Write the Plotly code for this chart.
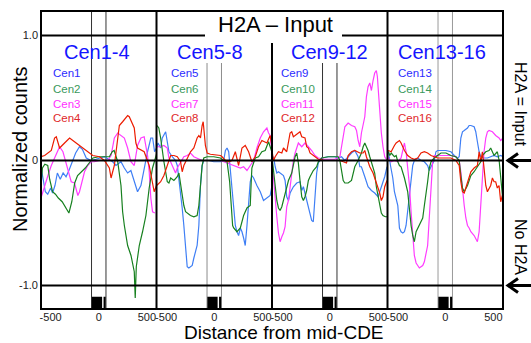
import plotly.graph_objects as go

# ---------------- data (distance from mid-CDE, normalized counts) ----------------
CEN1 = [(-600,-0.05),(-580,-0.15),(-555,-0.25),(-530,-0.27),(-500,-0.22),(-480,-0.26),(-455,-0.2),(-430,-0.1),
        (-400,-0.15),(-370,-0.1),(-340,-0.13),(-310,-0.08),(-280,-0.02),(-240,0.06),(-200,0.11),(-170,0.09),
        (-130,0.02),(-80,0.0),(-30,0.01),(20,0.02),(60,0.03),(100,0.01),(145,-0.01),(179,-0.04),(231,-0.01),
        (266,-0.06),(300,-0.1),(334,-0.08),(369,-0.17),(403,-0.25),(438,-0.2),(472,-0.06),(507,0.07),(541,0.18),
        (560,0.18),(580,0.07),(600,0.1)]
CEN2 = [(-600,-0.2),(-585,-0.06),(-560,-0.03),(-530,-0.04),(-510,-0.15),(-480,-0.25),(-450,-0.27),(-420,-0.3),
        (-380,-0.33),(-352,-0.37),(-310,-0.42),(-280,-0.33),(-250,-0.18),(-220,-0.12),(-180,-0.09),(-140,-0.06),
        (-100,-0.02),(-60,0.02),(0,0.03),(60,0.03),(110,0.03),(140,0.07),(160,0.08),(197,-0.01),(231,-0.2),
        (248,-0.41),(266,-0.52),(300,-0.68),(335,-0.76),(369,-0.89),(379,-1.1),(390,-0.85),(421,-0.68),
        (455,-0.57),(490,-0.44),(524,-0.22),(559,-0.06),(600,0.05)]
CEN3 = [(-600,-0.3),(-562,-0.2),(-528,-0.12),(-493,-0.04),(-459,0.02),(-441,0.04),(-407,0.11),(-372,0.07),
        (-355,0.02),(-321,-0.06),(-286,-0.17),(-252,-0.18),(-217,-0.28),(-200,-0.25),(-166,-0.14),(-148,-0.09),
        (-114,-0.04),(-79,-0.01),(-45,-0.01),(7,0.0),(59,0.0),(93,0.0),(128,0.04),(162,0.18),(197,0.22),
        (231,0.2),(266,0.18),(300,0.1),(334,-0.01),(369,-0.04),(403,0.12),(438,0.18),(472,0.19),(507,0.04),
        (524,-0.09),(541,-0.3),(559,-0.41),(583,-0.42)]
CEN4 = [(-600,0.03),(-562,0.04),(-493,0.08),(-459,0.18),(-441,0.19),(-407,0.1),(-355,0.14),(-303,0.18),
        (-252,0.15),(-183,0.11),(-114,0.07),(-62,0.04),(7,0.03),(59,0.0),(110,-0.06),(128,-0.14),(162,-0.04),
        (214,0.28),(248,0.31),(300,0.36),(317,0.35),(369,0.26),(386,0.14),(403,0.1),(472,0.07),(524,-0.04),
        (576,-0.25),(600,-0.2)]

CEN5 = [(-600,0.1),(-584,0.14),(-557,0.1),(-540,0.18),(-505,0.23),(-488,0.16),(-471,0.07),(-436,0.03),
        (-402,0.0),(-384,-0.04),(-367,-0.14),(-350,-0.25),(-333,-0.38),(-316,-0.52),(-298,-0.68),(-281,-0.85),
        (-264,-0.86),(-229,-0.84),(-212,-0.78),(-195,-0.73),(-178,-0.68),(-160,-0.52),(-143,-0.2),(-126,-0.04),
        (-109,0.0),(-57,0.0),(-5,-0.01),(64,-0.01),(98,0.0),(116,0.08),(133,0.1),(150,0.07),(167,-0.09),
        (184,-0.25),(202,-0.41),(219,-0.52),(236,-0.57),(253,-0.6),(271,-0.54),(288,-0.57),(305,-0.62),
        (322,-0.68),(340,-0.52),(357,-0.33),(374,-0.17),(391,-0.12),(409,-0.14),(443,-0.2),(478,-0.25),
        (512,-0.32),(547,-0.3),(581,-0.28),(600,-0.2)]
CEN6 = [(-595,0.28),(-576,0.26),(-557,0.18),(-540,0.07),(-523,-0.01),(-505,-0.09),(-488,-0.17),(-471,-0.18),
        (-453,-0.14),(-419,-0.16),(-384,-0.13),(-367,-0.1),(-350,-0.2),(-333,-0.28),(-316,-0.36),(-298,-0.41),
        (-281,-0.42),(-247,-0.44),(-212,-0.45),(-178,-0.44),(-160,-0.36),(-143,-0.2),(-126,-0.04),(-109,0.02),
        (-74,0.03),(-5,0.03),(64,0.02),(98,0.0),(133,-0.01),(160,-0.17),(174,-0.36),(191,-0.52),(202,-0.54),
        (236,-0.57),(271,-0.54),(288,-0.49),(305,-0.44),(340,-0.38),(374,-0.36),(384,-0.17),(391,-0.06),
        (426,0.02),(460,0.03),(495,0.07),(529,0.08),(564,0.15),(598,0.07)]
CEN7 = [(-595,0.11),(-557,0.11),(-523,0.12),(-488,0.1),(-471,0.02),(-436,-0.04),(-402,-0.1),(-384,-0.06),
        (-350,-0.01),(-316,0.03),(-281,0.04),(-247,0.06),(-212,0.03),(-178,0.02),(-126,0.0),(-74,0.0),
        (-5,0.0),(64,0.0),(133,-0.02),(202,-0.04),(236,-0.05),(271,-0.06),(305,-0.05),(340,-0.08),(374,-0.04),
        (409,0.0),(443,0.1),(478,0.18),(512,0.23),(547,0.26),(564,0.22),(581,0.2),(598,0.07)]
CEN8 = [(-598,-0.2),(-557,-0.17),(-523,-0.12),(-488,-0.04),(-453,0.04),(-419,0.04),(-384,0.03),(-350,-0.01),
        (-333,-0.09),(-316,-0.04),(-281,0.02),(-247,0.07),(-212,0.1),(-178,0.18),(-160,0.2),(-143,0.18),
        (-126,0.28),(-115,0.31),(-92,0.12),(-74,0.06),(-40,0.05),(64,0.04),(81,0.03),(116,0.0),(150,-0.01),
        (184,0.0),(219,0.07),(253,-0.04),(288,0.1),(322,0.12),(357,0.07),(391,-0.01),(426,0.03),(460,0.11),
        (495,0.16),(547,0.14),(581,0.2),(598,0.12)]

CEN9 = [(-600,0.0),(-584,0.03),(-567,-0.05),(-550,-0.1),(-533,-0.09),(-516,-0.1),(-481,-0.12),(-464,-0.16),
        (-447,-0.29),(-429,-0.32),(-412,-0.26),(-378,-0.21),(-343,-0.18),(-309,-0.17),(-291,-0.24),(-274,-0.21),
        (-257,-0.26),(-240,-0.32),(-222,-0.37),(-205,-0.42),(-188,-0.48),(-171,-0.49),(-153,-0.32),(-136,-0.1),
        (-119,-0.02),(-84,0.02),(-16,0.03),(53,0.03),(88,0.02),(122,0.03),(157,0.0),(191,0.03),(226,0.06),
        (260,0.08),(295,0.03),(312,-0.05),(329,-0.05),(364,-0.13),(398,-0.21),(433,-0.24),(467,-0.26),
        (502,-0.29),(536,-0.21),(571,-0.13),(595,-0.05)]
CEN10 = [(-600,0.03),(-584,-0.1),(-567,-0.21),(-550,-0.32),(-533,-0.38),(-516,-0.4),(-498,-0.37),(-481,-0.32),
         (-464,-0.26),(-447,-0.21),(-429,-0.16),(-395,-0.1),(-378,-0.02),(-360,0.03),(-343,0.06),(-326,-0.02),
         (-309,-0.16),(-291,-0.29),(-274,-0.32),(-257,-0.29),(-240,-0.24),(-222,-0.16),(-205,-0.13),(-188,-0.1),
         (-171,-0.08),(-136,-0.05),(-119,-0.01),(-84,0.02),(-16,0.03),(53,0.03),(88,0.03),(105,0.0),(122,-0.08),
         (140,-0.16),(157,-0.18),(191,-0.18),(226,-0.16),(260,-0.05),(295,0.0),(329,0.06),(347,0.11),(364,0.14),
         (381,0.11),(398,0.08),(416,0.03),(450,-0.05),(467,-0.1),(484,-0.21),(519,-0.34),(536,-0.42),
         (553,-0.44),(578,-0.45),(600,-0.45)]
CEN11 = [(-600,0.0),(-584,-0.16),(-567,-0.32),(-550,-0.45),(-533,-0.58),(-516,-0.65),(-498,-0.61),(-481,-0.58),
         (-464,-0.53),(-447,-0.37),(-429,-0.32),(-412,-0.21),(-395,-0.1),(-378,0.0),(-360,0.06),(-343,0.11),
         (-326,0.14),(-291,0.11),(-257,0.14),(-222,0.11),(-188,0.08),(-153,0.04),(-119,0.02),(-50,0.01),
         (53,0.01),(105,0.03),(122,0.11),(140,0.22),(157,0.27),(191,0.3),(226,0.28),(260,0.27),(278,0.24),
         (295,0.16),(312,0.11),(329,0.22),(364,0.35),(381,0.51),(398,0.59),(416,0.62),(433,0.56),(450,0.64),
         (467,0.7),(484,0.72),(495,0.67),(502,0.59),(519,0.4),(536,0.22),(553,0.11),(571,0.03),(595,0.0)]
CEN12 = [(-600,0.08),(-584,0.0),(-567,0.03),(-533,0.07),(-498,0.06),(-481,0.1),(-447,0.07),(-429,0.14),
         (-412,0.22),(-395,0.23),(-378,0.19),(-360,0.2),(-326,0.22),(-309,0.23),(-291,0.19),(-257,0.18),
         (-240,0.11),(-222,0.1),(-205,0.06),(-153,0.03),(-119,0.01),(-50,0.0),(53,0.0),(105,0.0),(140,-0.01),
         (174,-0.02),(191,0.04),(226,0.07),(260,0.08),(295,0.07),(312,0.06),(347,0.06),(364,0.08),(381,0.03),
         (416,-0.05),(450,-0.1),(484,-0.18),(519,-0.26),(536,-0.32),(553,-0.29),(571,-0.21),(595,-0.16)]

CEN13 = [(-600,0.05),(-590,0.07),(-569,-0.04),(-545,-0.14),(-528,-0.25),(-510,-0.3),(-493,-0.36),(-476,-0.54),
         (-459,-0.57),(-441,-0.58),(-424,-0.57),(-407,-0.52),(-390,-0.41),(-372,-0.28),(-355,-0.14),(-338,-0.04),
         (-321,0.0),(-286,0.02),(-252,0.0),(-217,-0.01),(-183,-0.04),(-166,-0.08),(-148,-0.05),(-114,0.0),
         (-97,0.07),(-79,0.08),(-45,0.08),(7,0.08),(59,0.07),(93,0.04),(128,0.02),(145,0.03),(162,0.18),
         (179,0.23),(197,0.24),(231,0.26),(248,0.28),(266,0.28),(300,0.27),(317,0.23),(334,0.15),(352,0.07),
         (369,0.03),(403,0.02),(438,0.02),(472,0.03),(507,0.04),(541,0.03),(576,0.04),(600,0.03)]
CEN14 = [(-600,0.07),(-590,0.07),(-576,0.04),(-562,0.06),(-528,0.03),(-510,0.04),(-493,-0.01),(-476,-0.04),
         (-459,-0.05),(-441,-0.09),(-424,-0.14),(-390,-0.25),(-372,-0.41),(-355,-0.52),(-338,-0.6),(-321,-0.65),
         (-303,-0.57),(-286,-0.54),(-269,-0.52),(-252,-0.49),(-234,-0.46),(-217,-0.36),(-200,-0.28),(-183,-0.17),
         (-166,-0.06),(-148,-0.01),(-114,0.02),(-79,0.04),(-45,0.06),(7,0.06),(59,0.04),(110,0.03),(145,0.0),
         (162,-0.12),(179,-0.22),(197,-0.25),(214,-0.22),(231,-0.2),(266,-0.12),(300,-0.09),(334,-0.05),
         (369,-0.01),(386,0.04),(421,0.07),(455,0.08),(472,0.1),(507,0.04),(541,0.07),(560,0.0),(580,-0.15),
         (600,-0.33)]
CEN15 = [(-600,0.03),(-562,-0.01),(-528,0.0),(-493,-0.01),(-459,0.02),(-424,0.14),(-407,0.07),(-390,-0.04),
         (-372,-0.2),(-355,-0.41),(-338,-0.62),(-321,-0.76),(-303,-0.82),(-286,-0.84),(-269,-0.86),(-252,-0.85),
         (-234,-0.84),(-217,-0.81),(-200,-0.73),(-183,-0.68),(-166,-0.46),(-148,-0.2),(-131,-0.01),(-114,0.04),
         (-79,0.04),(-10,0.04),(59,0.04),(110,0.03),(145,0.0),(162,-0.09),(179,-0.25),(197,-0.36),(214,-0.46),
         (231,-0.52),(248,-0.54),(266,-0.57),(300,-0.6),(334,-0.65),(352,-0.57),(369,-0.36),(386,-0.09),
         (403,0.07),(421,0.18),(438,0.23),(455,0.24),(490,0.23),(524,0.2),(559,0.18),(576,0.16),(600,0.18)]
CEN16 = [(-600,0.08),(-590,0.08),(-562,0.07),(-545,0.1),(-528,0.12),(-510,0.14),(-493,0.15),(-476,0.16),
         (-459,0.14),(-441,0.11),(-424,0.08),(-390,0.04),(-355,0.02),(-321,0.01),(-286,0.02),(-252,0.06),
         (-217,0.07),(-183,0.06),(-148,0.04),(-114,0.03),(-79,0.02),(-10,0.02),(59,0.02),(110,0.0),(145,-0.04),
         (162,-0.17),(179,-0.25),(197,-0.26),(214,-0.22),(231,-0.17),(248,-0.14),(266,-0.09),(300,-0.06),
         (334,-0.04),(352,0.07),(369,-0.01),(386,0.07),(403,-0.04),(421,-0.2),(438,-0.25),(472,-0.2),
         (490,-0.14),(507,-0.17),(524,-0.17),(541,-0.22),(559,-0.2),(576,-0.33),(593,-0.28)]

PANEL_TITLES = ["Cen1-4", "Cen5-8", "Cen9-12", "Cen13-16"]
SERIES_NAMES = [["Cen1", "Cen2", "Cen3", "Cen4"], ["Cen5", "Cen6", "Cen7", "Cen8"],
                ["Cen9", "Cen10", "Cen11", "Cen12"], ["Cen13", "Cen14", "Cen15", "Cen16"]]
SERIES = [[CEN1, CEN2, CEN3, CEN4], [CEN5, CEN6, CEN7, CEN8],
          [CEN9, CEN10, CEN11, CEN12], [CEN13, CEN14, CEN15, CEN16]]
X_TICKS = [-500, 0, 500]
X_TICKTEXT = ["-500", "0", "500"]
Y_TICKS = [-1, 0, 1]
Y_TICKTEXT = ["-1.0", "0", "1.0"]

# ---------------- styling ----------------
LINE_COLORS = ["#3f7ff5", "#17801f", "#ff3cff", "#ec1c00"]
TEXT_COLORS = ["#2c2cff", "#3a9a5c", "#ff30ff", "#e0282a"]
TITLE_BLUE = "#1414ff"
FONT = "Arial, Liberation Sans, sans-serif"
YMIN, YMAX = -1.188, 1.196
W, H = 531, 343
ML, MR, MT, MB = 41, 28, 11, 34
PW = W - ML - MR
PH = H - MT - MB

def ppx(px):
    return (px - ML) / PW

def ppy(v):
    return (v - YMIN) / (YMAX - YMIN)

def vpx(py):
    return (160.5 - py) / 125.0

fig = go.Figure()
DRAW_ORDER = [0, 2, 1, 3]
for p in range(4):
    xa = "x" if p == 0 else f"x{p+1}"
    for k in DRAW_ORDER:
        pts = SERIES[p][k]
        fig.add_trace(go.Scatter(x=[a for a, b in pts], y=[b for a, b in pts], mode="lines",
                                 line=dict(color=LINE_COLORS[k], width=1.2),
                                 xaxis=xa, yaxis="y", hoverinfo="skip"))

layout = dict(width=W, height=H, margin=dict(l=ML, r=MR, t=MT, b=MB),
              plot_bgcolor="white", paper_bgcolor="white", showlegend=False,
              font=dict(family=FONT, color="#000"))
for p in range(4):
    key = "xaxis" if p == 0 else f"xaxis{p+1}"
    layout[key] = dict(domain=[p / 4, (p + 1) / 4], range=[-600, 600], anchor="y",
                       tickvals=X_TICKS, ticktext=X_TICKTEXT, showgrid=False, zeroline=False,
                       showline=False, ticks="", tickfont=dict(size=11, color="#222"), fixedrange=True)
layout["yaxis"] = dict(domain=[0, 1], range=[YMIN, YMAX], anchor="x", tickvals=Y_TICKS,
                       ticktext=Y_TICKTEXT, showgrid=False, zeroline=False, showline=False,
                       ticks="", tickfont=dict(size=11, color="#222"), ticklabelstandoff=2,
                       fixedrange=True)
fig.update_layout(**layout)

shapes = []
def pline(x0, y0, x1, y1, w=2, color="black"):
    shapes.append(dict(type="line", xref="paper", yref="paper", x0=x0, y0=y0, x1=x1, y1=y1,
                       line=dict(color=color, width=w)))

# outer frame
shapes.append(dict(type="rect", xref="paper", yref="paper", x0=0, y0=0, x1=1, y1=1,
                   line=dict(color="black", width=2)))
# horizontal reference lines
pline(0, ppy(1.0), ppx(205), ppy(1.0))
pline(ppx(342), ppy(1.0), 1, ppy(1.0))
pline(0, ppy(0), 1, ppy(0))
pline(0, ppy(-1.0), 1, ppy(-1.0))
# panel dividers
pline(0.25, 0, 0.25, 1)
pline(0.5, 0, 0.5, ppy(vpx(43)))
pline(0.75, 0, 0.75, 1)

# CDE markers per panel
CDE_COLORS = ["#333333", "#8c8c8c", "#333333", "#9a9a9a"]
CDE_TOP = [YMAX, vpx(63), vpx(63), YMAX]
for p in range(4):
    xa = "x" if p == 0 else f"x{p+1}"
    for xv in (-75, 75):
        shapes.append(dict(type="line", xref=xa, yref="y", x0=xv, x1=xv, y0=YMIN, y1=CDE_TOP[p],
                           line=dict(color=CDE_COLORS[p], width=1), layer="below"))
    for (a, b) in ((-72, 35), (50, 72)):
        shapes.append(dict(type="rect", xref=xa, yref="y", x0=a, x1=b, y0=YMIN, y1=-1.09,
                           fillcolor="black", line=dict(width=0)))

# arrows on the right
for v in (0.0, -1.0):
    yc = ppy(v)
    dy = 7 / PH
    shapes.append(dict(type="line", xref="paper", yref="paper", x0=ppx(508), x1=ppx(531), y0=yc, y1=yc,
                       line=dict(color="black", width=3)))
    shapes.append(dict(type="path", xref="paper", yref="paper",
                       path=f"M {ppx(518)},{yc+dy} L {ppx(508)},{yc} L {ppx(518)},{yc-dy}",
                       line=dict(color="black", width=3)))
fig.update_layout(shapes=shapes)

ann = []
ann.append(dict(text="H2A – Input", xref="paper", yref="paper", x=ppx(275), y=ppy(vpx(25)),
                showarrow=False, font=dict(size=22, color="black"), xanchor="center", yanchor="middle"))
PT_X = [-20, -47, 0, -30]
LEG_X = [-496, -470, -532, -507]
LEG_Y = [vpx(73), vpx(89), vpx(104), vpx(118)]
for p in range(4):
    xa = "x" if p == 0 else f"x{p+1}"
    ann.append(dict(text=PANEL_TITLES[p], xref=xa, yref="y", x=PT_X[p], y=vpx(52), showarrow=False,
                    font=dict(size=20, color=TITLE_BLUE), xanchor="center", yanchor="middle"))
    for k in range(4):
        ann.append(dict(text=SERIES_NAMES[p][k], xref=xa, yref="y", x=LEG_X[p], y=LEG_Y[k],
                        showarrow=False, font=dict(size=11.5, color=TEXT_COLORS[k]),
                        xanchor="left", yanchor="middle"))
ann.append(dict(text="Normalized counts", xref="paper", yref="paper", x=ppx(20), y=ppy(vpx(149)),
                textangle=-90, showarrow=False, font=dict(size=20, color="black"),
                xanchor="center", yanchor="middle"))
ann.append(dict(text="Distance from mid-CDE", xref="paper", yref="paper", x=ppx(283.5),
                y=(H - MB - 333) / PH, showarrow=False, font=dict(size=19, color="black"),
                xanchor="center", yanchor="middle"))
ann.append(dict(text="H2A = Input", xref="paper", yref="paper", x=ppx(521), y=ppy(vpx(104)),
                textangle=90, showarrow=False, font=dict(size=16, color="black"),
                xanchor="center", yanchor="middle"))
ann.append(dict(text="No H2A", xref="paper", yref="paper", x=ppx(521), y=ppy(vpx(247)),
                textangle=90, showarrow=False, font=dict(size=16, color="black"),
                xanchor="center", yanchor="middle"))
fig.update_layout(annotations=ann)

fig.write_html("out.html", config={"displayModeBar": False, "staticPlot": True},
               post_script="document.body.style.margin='0';document.body.style.overflow='hidden';")
